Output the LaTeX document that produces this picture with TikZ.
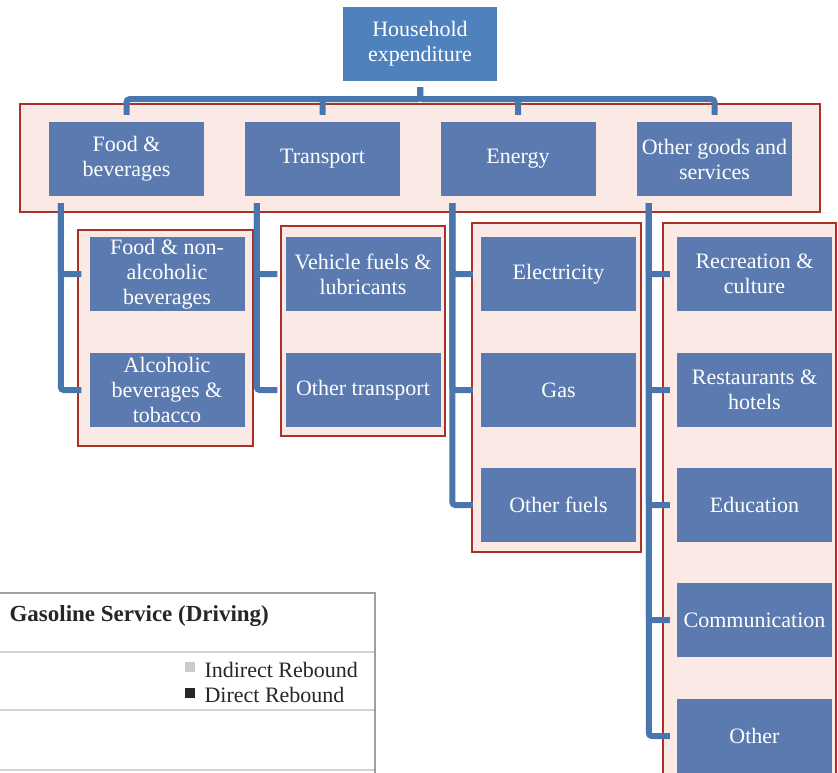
\documentclass[tikz,border=0pt]{standalone}
\usepackage{fontspec}
\setmainfont{Liberation Serif}

\definecolor{boxblue}{HTML}{5B7BB0}
\definecolor{rootblue}{HTML}{4F81BD}
\definecolor{linkblue}{HTML}{4A76AE}
\definecolor{framered}{HTML}{A93226}
\definecolor{framepink}{HTML}{FBE9E6}

\tikzset{
  catbox/.style={fill=boxblue, text=white, minimum width=155pt, minimum height=74pt,
    inner sep=2pt, align=center, font=\fontsize{22}{25}\selectfont},
  group/.style={draw=framered, fill=framepink, line width=2.5pt},
  link/.style={draw=linkblue, line width=6pt, rounded corners=3pt, shorten <=7pt, shorten >=8pt},
  chartline/.style={draw=gray!35, line width=1.2pt},
  legend/.style={anchor=base west, text=black!85, font=\fontsize{22}{25}\selectfont},
}

\begin{document}
\begin{tikzpicture}[x=1pt,y=-1pt]
  \useasboundingbox (0,0) rectangle (838,773);
  \clip (0,0) rectangle (838,773);

  % red frames round the groups
  \draw[group] (20,104) rectangle (820,212);
  \draw[group] (78,230) rectangle (253,446);
  \draw[group] (281,226) rectangle (445,436);
  \draw[group] (472,223) rectangle (641,552);
  \draw[group] (663,223) rectangle (836,800);

  % piece of the chart below
  \draw[chartline] (0,652) -- (375,652);
  \draw[chartline] (0,710) -- (375,710);
  \draw[chartline] (0,770) -- (375,770);
  \draw[gray!75, line width=1.6pt] (-2,593) -- (375,593) -- (375,790);
  \node[anchor=base west, text=black!85, font=\bfseries\fontsize{23}{26}\selectfont] (title) at (6,621) {Gasoline Service (Driving)};
  \node[fill=gray!40, minimum size=10pt, inner sep=0pt] (keyind) at (190,667) {};
  \node[legend] (lblind) at (201,677) {Indirect Rebound};
  \node[fill=black!85, minimum size=10pt, inner sep=0pt] (keydir) at (190,693) {};
  \node[legend] (lbldir) at (201,702) {Direct Rebound};

  % boxes
  \node[catbox, fill=rootblue, minimum width=154pt] (house) at (420,44) {Household\\expenditure};

  \node[catbox] (food) at (126.5,159) {Food \&\\beverages};
  \node[catbox] (transport) at (322.5,159) {Transport};
  \node[catbox] (energy) at (518,159) {Energy};
  \node[catbox] (other) at (714.5,159) {Other goods and\\services};

  \node[catbox] (foodnonalc) at (167,274) {Food \& non-\\alcoholic\\beverages};
  \node[catbox] (alcohol) at (167,390) {Alcoholic\\beverages \&\\tobacco};

  \node[catbox] (vehfuel) at (363,274) {Vehicle fuels \&\\lubricants};
  \node[catbox] (othtrans) at (363,390) {Other transport};

  \node[catbox] (elec) at (558.5,274) {Electricity};
  \node[catbox] (gas) at (558.5,390) {Gas};
  \node[catbox] (othfuel) at (558.5,505) {Other fuels};

  \node[catbox] (recreation) at (754.5,274) {Recreation \&\\culture};
  \node[catbox] (restaurant) at (754.5,390) {Restaurants \&\\hotels};
  \node[catbox] (education) at (754.5,505) {Education};
  \node[catbox] (communic) at (754.5,620) {Communication};
  \node[catbox] (othserv) at (754.5,736) {Other};

  % connectors
  \foreach \c in {food,transport,energy,other}
    \draw[link, shorten <=6pt, shorten >=7pt] (house.south) -- ++(0,18) -| (\c.north);

  \foreach \c in {foodnonalc,alcohol}
    \draw[link] ([xshift=12pt]food.south west) |- (\c.west);
  \foreach \c in {vehfuel,othtrans}
    \draw[link] ([xshift=12pt]transport.south west) |- (\c.west);
  \foreach \c in {elec,gas,othfuel}
    \draw[link] ([xshift=12pt]energy.south west) |- (\c.west);
  \foreach \c in {recreation,restaurant,education,communic,othserv}
    \draw[link, shorten >=7pt] ([xshift=12pt]other.south west) |- (\c.west);
\end{tikzpicture}
\end{document}
